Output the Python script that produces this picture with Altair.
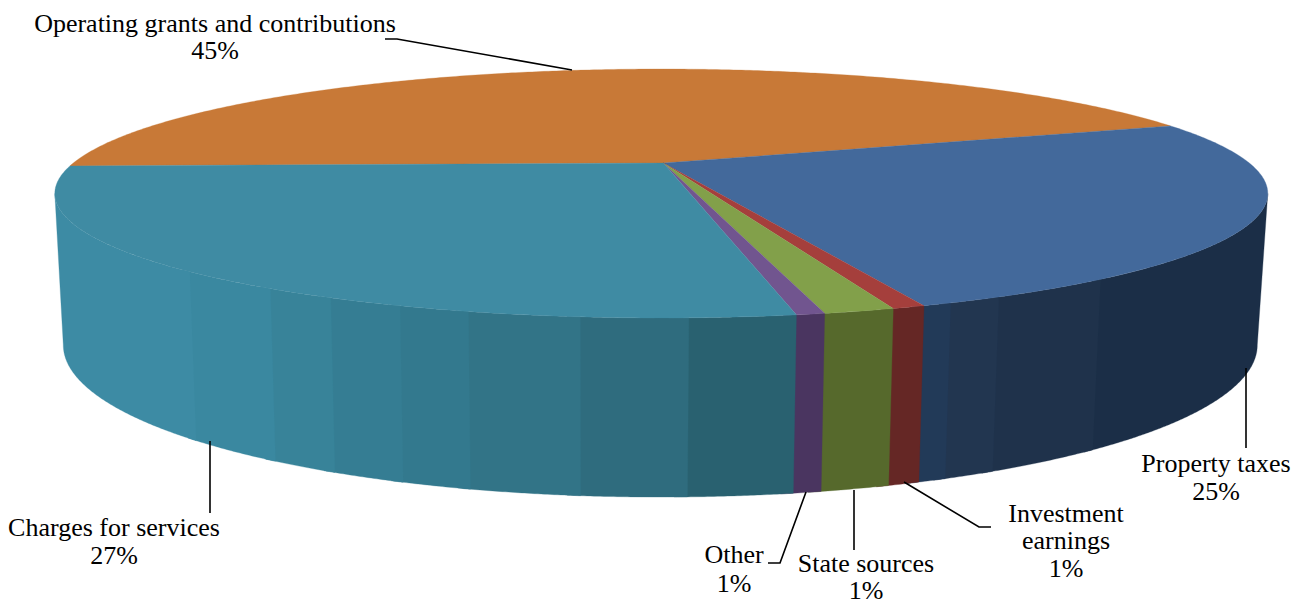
import math
import altair as alt
import pandas as pd

# --- chart values -----------------------------------------------------------
categories = ["Operating grants and contributions", "Property taxes", "Investment earnings",
              "State sources", "Other", "Charges for services"]
shares = [44.8, 25.0, 0.7, 1.5, 0.6, 27.4]          # drawn share of the pie
printed = ["45%", "25%", "1%", "1%", "1%", "27%"]   # printed on the labels

# --- styles -----------------------------------------------------------------
top_colors = ["#c87937", "#43699b", "#a53f3c", "#82a04a", "#71558f", "#3f8ba3"]
# wall shading as (screen x where the band ends, colour)
wall_bands = [
    [(9999, "#c87937")],
    [(950, "#223a58"), (1000, "#223650"), (1100, "#1f324b"), (9999, "#1b2e47")],
    [(9999, "#652725")],
    [(9999, "#56692c")],
    [(9999, "#4a3560")],
    [(190, "#3d8ba4"), (270, "#3a88a0"), (330, "#388399"), (400, "#357d93"), (470, "#33798e"),
     (580, "#327487"), (690, "#2f6c7e"), (9999, "#296170")],
]

# --- layout (screen positions, page margin removed below) ---------------------
PAD_TOP = 4
W, H = 1291, 593
OFFX, OFFY = 8, 8 + PAD_TOP
START = -91.4
TOP = dict(cx=661.3, cy=163, a=588, b=117, k=0.245)
BOT = dict(cx=660.3, cy=307.8, a=578.8, b=142.9, k=0.245)
FONT = "Liberation Serif"
FSIZE = 26

label_lines = [
    ("Operating grants and contributions", 215, 31.5), (printed[0], 215, 59),
    ("Property taxes", 1216, 472), (printed[1], 1216, 500),
    ("Investment", 1066, 522), ("earnings", 1066, 549), (printed[2], 1066, 577),
    ("State sources", 866, 572), (printed[3], 866, 599),
    ("Other", 734, 563), (printed[4], 734, 592),
    ("Charges for services", 114, 536), (printed[5], 114, 564),
]
leaders = [
    [(385, 39), (397, 39), (572, 70)],
    [(1246, 368), (1246, 448)],
    [(904, 482), (979, 527), (991, 527)],
    [(854, 490), (854, 550)],
    [(806, 492), (780, 563), (768, 563)],
    [(210, 441), (210, 513)],
]


def project(theta, g):
    """Perspective view of a point on the pie rim, theta clockwise from the far side."""
    t = math.radians(theta)
    u, v = math.sin(t), -math.cos(t)
    d = 1 - g["k"] * v
    return [g["cx"] + g["a"] * u / d - OFFX, g["cy"] + g["b"] * v / d - OFFY]


def feature(ring, color):
    return {"type": "Feature", "color": color,
            "geometry": {"type": "Polygon", "coordinates": [ring + [ring[0]]]}}


edges = [START]
for s in shares:
    edges.append(edges[-1] + s * 3.6)

# the rim is visible between the two angles where the silhouette touches it
SIL = math.degrees(math.acos(-TOP["k"]))
END = 360 - SIL
tops, bands = [], []
for i, col in enumerate(top_colors):
    a0, a1 = edges[i], edges[i + 1]
    n = max(2, int((a1 - a0) / 0.5))
    arc = [project(a0 + (a1 - a0) * j / n, TOP) for j in range(n + 1)]
    tops.append(feature([[TOP["cx"] + 2 - OFFX, TOP["cy"] - OFFY]] + arc, col))
    lo, hi = max(a0, SIL), min(a1, END)
    if i == 0 or hi <= lo:
        continue
    m = max(2, int((hi - lo) / 0.25))
    last = None
    for j in range(m):
        t0 = lo + (hi - lo) * j / m
        xmid = project(t0 + (hi - lo) / m / 2, TOP)[0] + OFFX
        shade = next(c for xe, c in wall_bands[i] if xmid <= xe)
        if shade != last:
            bands.append((t0, shade))
            last = shade

# each band runs a little under the next one, painted later, so no seam shows
walls = []
for b, (t0, shade) in enumerate(bands):
    t1 = min(bands[b + 1][0] + 1.0, END) if b + 1 < len(bands) else END
    k = max(2, int((t1 - t0) / 0.25))
    ts = [t0 + (t1 - t0) * j / k for j in range(k + 1)]
    walls.append(feature([project(t, TOP) for t in ts] + [project(t, BOT) for t in reversed(ts)], shade))

fill = alt.Color("color:N", scale=None, legend=None)
stroke = alt.Stroke("color:N", scale=None, legend=None)
proj = dict(type="identity", scale=1, translate=[0, 0])

wall_layer = alt.Chart(alt.Data(values=walls)).mark_geoshape(strokeWidth=0.3).encode(
    color=fill, stroke=stroke).project(**proj)
top_layer = alt.Chart(alt.Data(values=tops)).mark_geoshape(strokeWidth=0.3).encode(
    color=fill, stroke=stroke).project(**proj)

xs = alt.Scale(domain=[0, W], nice=False, zero=False)
ys = alt.Scale(domain=[H, 0], nice=False, zero=False)

leader_df = pd.DataFrame(
    [{"id": i, "o": j, "px": p[0] - OFFX, "py": p[1] - OFFY} for i, l in enumerate(leaders) for j, p in enumerate(l)]
)
leader_layer = alt.Chart(leader_df).mark_line(color="#000000", strokeWidth=1.6).encode(
    x=alt.X("px:Q", scale=xs, axis=None),
    y=alt.Y("py:Q", scale=ys, axis=None),
    detail="id:N",
    order="o:Q",
)

text_df = pd.DataFrame([{"t": t, "px": x - OFFX, "py": y - OFFY} for t, x, y in label_lines])
text_layer = alt.Chart(text_df).mark_text(
    font=FONT, fontSize=FSIZE, color="#000000", align="center", baseline="alphabetic"
).encode(
    x=alt.X("px:Q", scale=xs, axis=None),
    y=alt.Y("py:Q", scale=ys, axis=None),
    text="t:N",
)

chart = alt.layer(wall_layer, top_layer, leader_layer, text_layer).properties(
    width=W, height=H,
    autosize=alt.AutoSizeParams(type="none"),
    padding={"left": 0, "right": 0, "top": PAD_TOP, "bottom": 0},
    background="#ffffff",
).configure_view(stroke=None)

chart.save("out.html", embed_options={"renderer": "svg", "actions": False})
